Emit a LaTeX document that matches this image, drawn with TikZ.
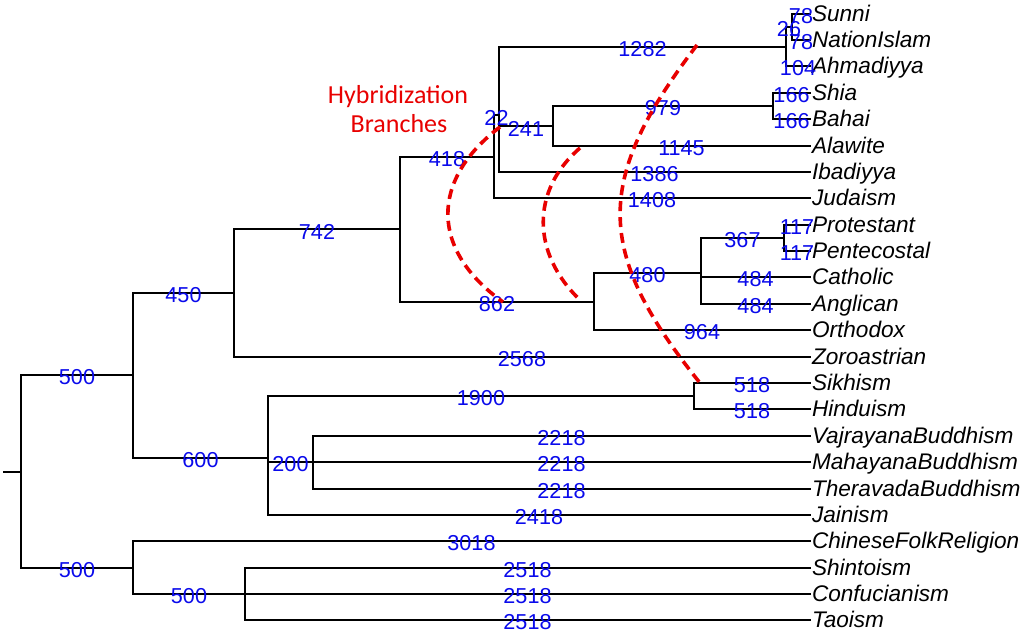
\documentclass[tikz,border=0pt]{standalone}
\usepackage{fontspec}
\setmainfont{Liberation Sans}
\newfontfamily\hybfont{Carlito}
\usetikzlibrary{calc}
\definecolor{hybred}{RGB}{232,0,0}
\definecolor{labblue}{RGB}{10,10,235}
\newcommand\elab[4]{\node[blab] (#1) at ($(#2 |- #3)!0.5!(#3)$) {#4};}
\newcommand\leaf[3]{\coordinate (#1) at (810,#2); \node[leaflab] (t#1) at ($(#1)+(1.8,7.9)$) {#3};}
\begin{document}
\begin{tikzpicture}[x=1pt,y=-1pt,
  edge/.style={line width=2pt,black,line cap=rect},
  blab/.style={text=labblue,font=\fontsize{21.6}{24}\selectfont,inner sep=0pt,anchor=center,yshift=-2.5pt},
  leaflab/.style={font=\fontsize{22.6}{25}\selectfont\itshape,inner sep=0pt,anchor=base west},
  hyb/.style={text=hybred,font=\hybfont\fontsize{26}{30}\selectfont,inner sep=0pt,anchor=base},
  hybline/.style={hybred,line width=3.6pt,dash pattern=on 10pt off 6pt}]
\useasboundingbox (0,0) rectangle (1025,634);
% leaves
\leaf{Sunni}{14}{Sunni}
\leaf{NationIslam}{40}{NationIslam}
\leaf{Ahmadiyya}{66}{Ahmadiyya}
\leaf{Shia}{93}{Shia}
\leaf{Bahai}{119}{Bahai}
\leaf{Alawite}{146}{Alawite}
\leaf{Ibadiyya}{172}{Ibadiyya}
\leaf{Judaism}{198}{Judaism}
\leaf{Protestant}{225}{Protestant}
\leaf{Pentecostal}{251}{Pentecostal}
\leaf{Catholic}{277}{Catholic}
\leaf{Anglican}{304}{Anglican}
\leaf{Orthodox}{330}{Orthodox}
\leaf{Zoroastrian}{357}{Zoroastrian}
\leaf{Sikhism}{383}{Sikhism}
\leaf{Hinduism}{409}{Hinduism}
\leaf{Vajrayana}{436}{VajrayanaBuddhism}
\leaf{Mahayana}{462}{MahayanaBuddhism}
\leaf{Theravada}{489}{TheravadaBuddhism}
\leaf{Jainism}{515}{Jainism}
\leaf{Chinese}{541}{ChineseFolkReligion}
\leaf{Shintoism}{568}{Shintoism}
\leaf{Confucianism}{594}{Confucianism}
\leaf{Taoism}{620}{Taoism}
% internal nodes
\coordinate (R) at (21,472);
\coordinate (stub) at (4,472);
\coordinate (A) at (133,375);
\coordinate (P) at (133,568);
\coordinate (B) at (234,293);
\coordinate (M) at (268,458);
\coordinate (C) at (400,229);
\coordinate (D) at (494,157);
\coordinate (E) at (499,115);
\coordinate (F) at (786,47);
\coordinate (I) at (792,27);
\coordinate (G) at (553,126);
\coordinate (H) at (773,106);
\coordinate (J) at (594,302);
\coordinate (K) at (701,273);
\coordinate (L) at (784,238);
\coordinate (N) at (694,396);
\coordinate (O) at (313,462);
\coordinate (Q) at (245,594);
% edges
\draw[edge] (stub) -- (R);
\draw[edge] (R |- A) -- (R |- P);
\foreach \c in {A,P} \draw[edge] (R |- \c) -- (\c);
\draw[edge] (A |- B) -- (A |- M);
\foreach \c in {B,M} \draw[edge] (A |- \c) -- (\c);
\draw[edge] (B |- C) -- (B |- Zoroastrian);
\foreach \c in {C,Zoroastrian} \draw[edge] (B |- \c) -- (\c);
\draw[edge] (C |- D) -- (C |- J);
\foreach \c in {D,J} \draw[edge] (C |- \c) -- (\c);
\draw[edge] (D |- E) -- (D |- Judaism);
\foreach \c in {E,Judaism} \draw[edge] (D |- \c) -- (\c);
\draw[edge] (E |- F) -- (E |- Ibadiyya);
\foreach \c in {F,G,Ibadiyya} \draw[edge] (E |- \c) -- (\c);
\draw[edge] (F |- I) -- (F |- Ahmadiyya);
\foreach \c in {I,Ahmadiyya} \draw[edge] (F |- \c) -- (\c);
\draw[edge] (I |- Sunni) -- (I |- NationIslam);
\foreach \c in {Sunni,NationIslam} \draw[edge] (I |- \c) -- (\c);
\draw[edge] (G |- H) -- (G |- Alawite);
\foreach \c in {H,Alawite} \draw[edge] (G |- \c) -- (\c);
\draw[edge] (H |- Shia) -- (H |- Bahai);
\foreach \c in {Shia,Bahai} \draw[edge] (H |- \c) -- (\c);
\draw[edge] (J |- K) -- (J |- Orthodox);
\foreach \c in {K,Orthodox} \draw[edge] (J |- \c) -- (\c);
\draw[edge] (K |- L) -- (K |- Anglican);
\foreach \c in {L,Catholic,Anglican} \draw[edge] (K |- \c) -- (\c);
\draw[edge] (L |- Protestant) -- (L |- Pentecostal);
\foreach \c in {Protestant,Pentecostal} \draw[edge] (L |- \c) -- (\c);
\draw[edge] (M |- N) -- (M |- Jainism);
\foreach \c in {N,O,Jainism} \draw[edge] (M |- \c) -- (\c);
\draw[edge] (N |- Sikhism) -- (N |- Hinduism);
\foreach \c in {Sikhism,Hinduism} \draw[edge] (N |- \c) -- (\c);
\draw[edge] (O |- Vajrayana) -- (O |- Theravada);
\foreach \c in {Vajrayana,Mahayana,Theravada} \draw[edge] (O |- \c) -- (\c);
\draw[edge] (P |- Chinese) -- (P |- Q);
\foreach \c in {Chinese,Q} \draw[edge] (P |- \c) -- (\c);
\draw[edge] (Q |- Shintoism) -- (Q |- Taoism);
\foreach \c in {Shintoism,Confucianism,Taoism} \draw[edge] (Q |- \c) -- (\c);
% edge labels
\elab{lA}{R}{A}{500}
\elab{lP}{R}{P}{500}
\elab{lB}{A}{B}{450}
\elab{lM}{A}{M}{600}
\elab{lC}{B}{C}{742}
\elab{lZor}{B}{Zoroastrian}{2568}
\elab{lD}{C}{D}{418}
\elab{lJ}{C}{J}{862}
\elab{lE}{D}{E}{22}
\elab{lJud}{D}{Judaism}{1408}
\elab{lF}{E}{F}{1282}
\elab{lG}{E}{G}{241}
\elab{lIba}{E}{Ibadiyya}{1386}
\elab{lI}{F}{I}{26}
\elab{lAhm}{F}{Ahmadiyya}{104}
\elab{lSun}{I}{Sunni}{78}
\elab{lNat}{I}{NationIslam}{78}
\elab{lH}{G}{H}{979}
\elab{lAla}{G}{Alawite}{1145}
\elab{lShi}{H}{Shia}{166}
\elab{lBah}{H}{Bahai}{166}
\elab{lK}{J}{K}{480}
\elab{lOrt}{J}{Orthodox}{964}
\elab{lL}{K}{L}{367}
\elab{lCat}{K}{Catholic}{484}
\elab{lAng}{K}{Anglican}{484}
\elab{lPro}{L}{Protestant}{117}
\elab{lPen}{L}{Pentecostal}{117}
\elab{lN}{M}{N}{1900}
\elab{lO}{M}{O}{200}
\elab{lJai}{M}{Jainism}{2418}
\elab{lSik}{N}{Sikhism}{518}
\elab{lHin}{N}{Hinduism}{518}
\elab{lVaj}{O}{Vajrayana}{2218}
\elab{lMah}{O}{Mahayana}{2218}
\elab{lThe}{O}{Theravada}{2218}
\elab{lChi}{P}{Chinese}{3018}
\elab{lQ}{P}{Q}{500}
\elab{lShi2}{Q}{Shintoism}{2518}
\elab{lCon}{Q}{Confucianism}{2518}
\elab{lTao}{Q}{Taoism}{2518}
% hybridization annotation
\node[hyb] (hyb1) at (398,103) {Hybridization};
\node[hyb] (hyb2) at (399,132) {Branches};
\coordinate (h1s) at (500,127);
\coordinate (h1e) at (503,302);
\coordinate (h2s) at (580,148);
\coordinate (h2e) at (580,300);
\coordinate (h3s) at (697,45);
\coordinate (h3e) at (700,383);
\draw[hybline] (h1s) .. controls (430,180) and (430,250) .. (h1e);
\draw[hybline] (h2s) .. controls (531,190) and (531,253) .. (h2e);
\draw[hybline] (h3s) .. controls (594,180) and (594,251) .. (h3e);
\end{tikzpicture}
\end{document}
